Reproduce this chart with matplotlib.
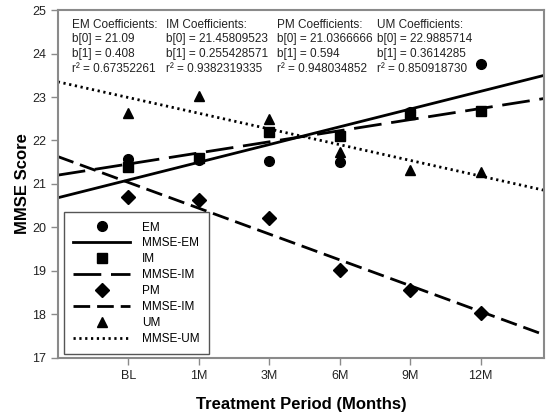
import numpy as np
import matplotlib
matplotlib.use("Agg")
import matplotlib.pyplot as plt

plt.rcParams['font.family'] = ['Liberation Sans', 'DejaVu Sans']

# treatment periods
periods = ['BL', '1M', '3M', '6M', '9M', '12M']

em = [21.57, 21.55, 21.53, 21.51, 22.66, 23.77]
im = [21.38, 21.59, 22.19, 22.10, 22.62, 22.68]
pm = [20.71, 20.63, 20.22, 19.01, 18.55, 18.03]
um = [22.64, 23.03, 22.49, 21.74, 21.32, 21.28]

# regression coefficients (as printed) and slope direction
groups = ['EM', 'IM', 'PM', 'UM']
b0 = [21.09, 21.45809523, 21.0366666, 22.9885714]
b1 = [0.408, 0.255428571, 0.594, 0.3614285]
b0_txt = ['21.09', '21.45809523', '21.0366666', '22.9885714']
b1_txt = ['0.408', '0.255428571', '0.594', '0.3614285']
r2_txt = ['0.67352261', '0.9382319335', '0.948034852', '0.850918730']
slope_sign = [1, 1, -1, -1]

fig = plt.figure(figsize=(5.5, 4.2), dpi=100)
ax = fig.add_axes([0.105, 0.148, 0.884, 0.828])

x = np.arange(1, len(periods) + 1)
xfit = np.array([0, 6.9])

def fit(i):
    return b0[i] + slope_sign[i] * b1[i] * (xfit - 1)

ax.plot(x, em, 'o', color='black', ms=7, label='EM', zorder=3)
ax.plot(xfit, fit(0), '-', color='black', lw=2, label='MMSE-EM')
ax.plot(x, im, 's', color='black', ms=6.5, label='IM', zorder=3)
ax.plot(xfit, fit(1), color='black', lw=2, dashes=(10, 3.5), label='MMSE-IM')
ax.plot(x, pm, 'D', color='black', ms=7, label='PM', zorder=3)
ax.plot(xfit, fit(2), color='black', lw=2, dashes=(6, 2.5), label='MMSE-IM')
ax.plot(x, um, '^', color='black', ms=7.5, label='UM', zorder=3)
ax.plot(xfit, fit(3), color='black', lw=2, dashes=(0.8, 1.3), label='MMSE-UM')

ax.set_xlim(0, 6.9)
ax.set_ylim(17, 25)
ax.set_xticks(x)
ax.set_xticklabels(periods)
ax.set_yticks(range(17, 26))

for s in ax.spines.values():
    s.set_color('#8a8a8a')
    s.set_linewidth(1.5)
ax.tick_params(axis='both', direction='out', length=5, width=1, color='#8a8a8a',
               labelsize=9, labelcolor='#222222')

ax.set_xlabel('Treatment Period (Months)', fontsize=12, fontweight='bold')
ax.set_ylabel('MMSE Score', fontsize=12, fontweight='bold')
ax.xaxis.set_label_coords(0.5, -0.112)
ax.yaxis.set_label_coords(-0.058, 0.5)

# coefficient columns
col_x = [0.03, 0.223, 0.45, 0.656]
for i, g in enumerate(groups):
    txt = (f'{g} Coefficients:\nb[0] = {b0_txt[i]}\nb[1] = {b1_txt[i]}\n'
           f'r\u00b2 = {r2_txt[i]}')
    ax.text(col_x[i], 0.975, txt, transform=ax.transAxes, va='top', ha='left',
            fontsize=8.5, color='#222222', linespacing=1.3)

leg = ax.legend(loc='lower left', bbox_to_anchor=(0.005, 0.0), fontsize=8.5,
                handlelength=4.8, fancybox=False, framealpha=1,
                borderpad=0.8, labelspacing=0.33, handletextpad=1.0,
                borderaxespad=0.3)
leg.get_frame().set_edgecolor('#555555')
leg.get_frame().set_linewidth(1)

fig.savefig('out.png', dpi=100)
